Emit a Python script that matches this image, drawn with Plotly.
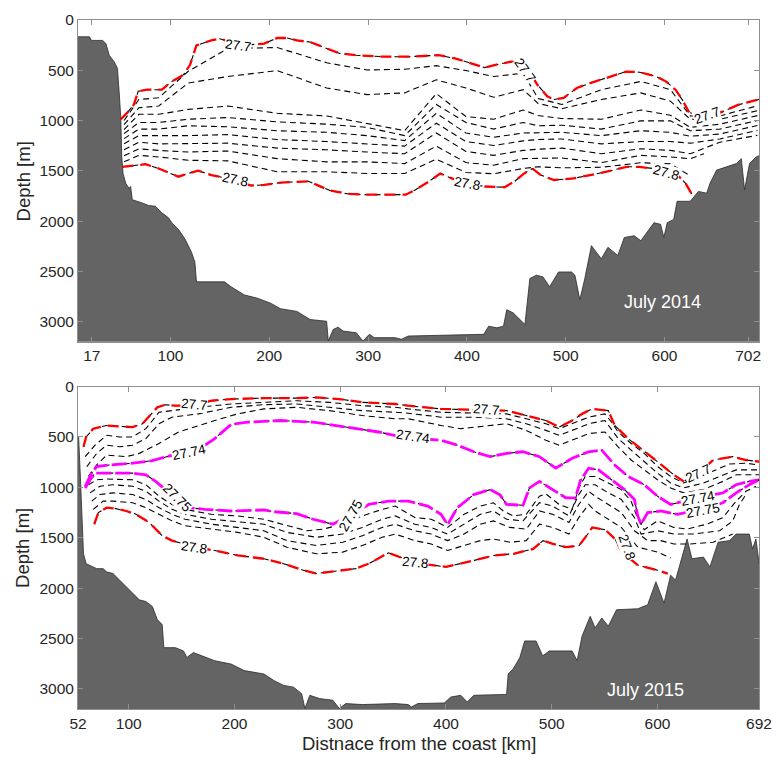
import plotly.graph_objects as go
from plotly.subplots import make_subplots

FONT = "Liberation Sans, Arial, Helvetica, sans-serif"
INK = "#262626"
AXIS_GREY = "#8f8f8f"
BATHY_FILL = "#646464"

# ------------------------------------------------------------------
# July 2014 section: distance (km) and depth (m)
# ------------------------------------------------------------------
BATHY14_KM = [0, 18, 20, 31.3, 34.7, 38, 43, 46.3, 48, 49.7, 50.7, 52, 54.7, 58, 59.7, 61.3,
              71.3, 78, 84.7, 91.3, 98, 101.3, 108, 114.7, 121.3, 124.7, 126.3, 154.7, 161.3,
              174.7, 188, 201.3, 211.3, 228, 241.3, 258, 259.7, 264.7, 269.7, 274.7, 288, 294.7,
              301.3, 306.3, 327, 333.7, 340.7, 374, 417, 422, 430.3, 437, 440.3, 447, 453.7,
              458.7, 463.7, 470.3, 477, 483.7, 492.7, 506, 509.3, 514.3, 519.3, 526, 536, 542.7,
              552.7, 559.3, 569.3, 576, 589.3, 596, 599.3, 602.7, 609.3, 612.7, 626, 634.3, 642.7,
              646, 652.7, 662.7, 672.7, 677.7, 681, 686, 692.7, 700]
BATHY14_M = [167, 167, 203, 203, 235, 350, 415, 480, 709, 970, 1362, 1526, 1624, 1673, 1656, 1787,
             1819, 1845, 1852, 1918, 1967, 2016, 2081, 2179, 2310, 2408, 2604, 2604, 2653,
             2734, 2767, 2816, 2871, 2898, 2979, 2996, 3192, 3077, 3055, 3094, 3110, 3192,
             3126, 3159, 3159, 3175, 3143, 3136, 3126, 3045, 3061, 3045, 2881, 2914, 2979,
             3028, 2571, 2538, 2555, 2653, 2506, 2506, 2538, 2783, 2571, 2244, 2375, 2261,
             2342, 2163, 2146, 2195, 2016, 2032, 2163, 2016, 1983, 1803, 1803, 1705, 1722,
             1624, 1493, 1460, 1428, 1379, 1689, 1428, 1362, 1330]

# sigma = 27.70 (upper bound of the layer)
ISO14_2770_KM = [49.7, 56.3, 63, 67.3, 76.3, 91.3, 101.3, 113, 119.7, 126.3, 141.3, 149.7, 161.3,
                 173, 194.7, 208, 218, 228, 241.3, 258, 271.3, 288, 314.7, 341.3, 371.3, 388,
                 404.7, 418, 428, 444.7, 458, 471.3, 481.3, 488, 498, 511.3, 524.7, 541.3, 561.3,
                 574.7, 591.3, 601.3, 611.3, 618, 625, 645, 661, 675, 698]
ISO14_2770_M = [987, 921, 840, 709, 693, 693, 611, 546, 448, 252, 203, 186, 219, 252, 235, 179,
                179, 203, 219, 284, 333, 350, 365, 365, 350, 382, 431, 473, 448, 414, 431, 644,
                758, 791, 774, 676, 627, 578, 513, 519, 561, 610, 696, 794, 921, 970, 901, 842, 784]

# sigma = 27.80 (lower bound of the layer)
ISO14_2780_KM = [51.3, 64.7, 74.7, 88, 108, 118, 128, 141.3, 164.7, 181.3, 194.7, 211.3, 228,
                 239.7, 248, 261.3, 278, 294.7, 338, 348, 361.3, 373, 384.7, 399.7, 418, 438,
                 448, 458, 466.3, 474.7, 488, 508, 524.7, 541.3, 561.3, 574.7, 588, 601.3, 614.7,
                 621.3, 628]
ISO14_2780_M = [1460, 1444, 1434, 1477, 1558, 1526, 1499, 1542, 1591, 1646, 1640, 1617, 1607,
                1604, 1640, 1695, 1727, 1737, 1737, 1688, 1607, 1526, 1575, 1624, 1656, 1663,
                1607, 1526, 1477, 1542, 1591, 1575, 1542, 1509, 1460, 1460, 1477, 1526, 1558,
                1624, 1738]

# intermediate isopycnals 27.71 ... 27.79, sampled at common stations
STN14_KM = [53, 68, 88, 118, 158, 208, 258, 299, 337, 369, 399, 427, 457, 472, 496, 536, 576,
            606, 626, 656, 694]
ISO14_2771_M = [1000, 791, 774, 510, 284, 274, 425, 497, 490, 454, 503, 562, 529, 780, 840, 693,
                611, 693, 954, 954, 853]
ISO14_2772_M = [1040, 872, 856, 627, 562, 503, 676, 742, 725, 595, 676, 768, 693, 830, 882, 791,
                725, 807, 987, 987, 902]
ISO14_2773_M = [1090, 938, 938, 889, 856, 928, 954, 1026, 1100, 732, 960, 987, 895, 950, 980,
                987, 895, 947, 1068, 1036, 951]
ISO14_2774_M = [1130, 1019, 1019, 987, 970, 1013, 1036, 1068, 1150, 840, 1019, 1085, 1019, 1052,
                1046, 1085, 1003, 1003, 1101, 1085, 1000]
ISO14_2775_M = [1180, 1085, 1085, 1052, 1062, 1101, 1117, 1150, 1199, 928, 1124, 1166, 1124,
                1124, 1117, 1150, 1101, 1117, 1156, 1134, 1049]
ISO14_2776_M = [1230, 1150, 1150, 1150, 1140, 1189, 1209, 1232, 1254, 1026, 1209, 1248, 1202,
                1189, 1183, 1232, 1209, 1209, 1225, 1183, 1098]
ISO14_2777_M = [1290, 1215, 1232, 1232, 1225, 1274, 1291, 1313, 1330, 1124, 1307, 1346, 1297,
                1285, 1274, 1330, 1281, 1297, 1330, 1215, 1147]
ISO14_2778_KM = [53, 68, 88, 118, 158, 208, 258, 299, 337, 369, 399, 427, 457, 472, 496, 536,
                 576, 606, 626, 640]
ISO14_2778_M = [1350, 1281, 1297, 1313, 1303, 1379, 1411, 1411, 1428, 1254, 1418, 1444, 1379,
                1375, 1372, 1418, 1346, 1362, 1380, 1330]
ISO14_2779_KM = [53, 68, 88, 118, 158, 208, 258, 299, 337, 369, 399, 427, 457, 472, 496, 536,
                 576, 606, 626]
ISO14_2779_M = [1410, 1346, 1362, 1395, 1401, 1509, 1509, 1526, 1526, 1385, 1516, 1529, 1477,
                1460, 1470, 1465, 1420, 1430, 1550]

# ------------------------------------------------------------------
# July 2015 section
# ------------------------------------------------------------------
BATHY15_KM = [50, 52.6, 54.1, 55.7, 57.2, 59.7, 63.4, 69.7, 75.8, 79, 85.1, 91.4, 97.6, 103.7,
              110, 116.2, 122.3, 127, 131.6, 133.2, 144.1, 151.8, 154.9, 161.1, 168.9, 181.3,
              196.8, 209.2, 227.8, 237.2, 246.5, 255.8, 263.5, 266.6, 271.2, 280.5, 293, 299.1,
              305.3, 320.9, 352, 364.2, 367.4, 373.5, 398.4, 404.6, 413.9, 420.1, 426.3, 457.3,
              458.8, 463.5, 469.8, 474.4, 485.2, 491.4, 497.7, 519.3, 524, 528.7, 536.4, 541,
              547.3, 553.5, 561.3, 581.4, 590.7, 598.5, 606.2, 612.4, 617.1, 621.7, 628, 632.6,
              643.4, 649.6, 657.3, 668.2, 674.4, 686.8, 689.9, 693.1, 696.1, 700]
BATHY15_M = [480, 500, 859, 1349, 1660, 1758, 1774, 1807, 1807, 1839, 1856, 1921, 1986, 2052,
             2117, 2133, 2182, 2313, 2362, 2591, 2591, 2624, 2689, 2640, 2672, 2721, 2754, 2819,
             2852, 2917, 2966, 2983, 3048, 3195, 3064, 3097, 3113, 3195, 3146, 3156, 3146, 3156,
             3179, 3146, 3140, 3081, 3064, 3130, 3064, 3055, 2852, 2803, 2689, 2525, 2525, 2672,
             2624, 2624, 2721, 2476, 2280, 2395, 2297, 2378, 2215, 2205, 2166, 1937, 2150, 1872,
             1921, 1741, 1513, 1709, 1692, 1790, 1545, 1529, 1464, 1464, 1611, 1513, 1758, 1758]

ISO15_2770_KM = [57.2, 59.7, 66.5, 79, 91.4, 103.7, 113, 120.9, 127, 134.8, 144.1, 159.6, 178.2,
                 196.8, 227.8, 258.8, 277.4, 299.1, 320.9, 352, 364.2, 395.3, 438.7, 457.3,
                 475.9, 494.5, 507, 519.4, 528.7, 538, 553.5, 559.6, 572.1, 584.5, 600, 615.4,
                 624.8, 638.7, 652.7, 671.2, 683.7, 696.1]
ISO15_2770_M = [598, 500, 418, 386, 396, 402, 369, 271, 206, 180, 190, 190, 141, 124, 115, 115,
                108, 124, 157, 173, 190, 222, 239, 239, 288, 337, 402, 337, 271, 222, 239, 386,
                516, 614, 745, 876, 941, 859, 729, 696, 729, 745]

ISO15_2771_KM = [58.8, 68.1, 79, 91.4, 103.7, 116.2, 128.6, 140.9, 153.4, 165.8, 196.8, 227.8,
                 258.8, 289.8, 320.9, 352, 364.2, 395.3, 426.3, 457.3, 475.9, 494.5, 507, 519.3,
                 534.9, 550.3, 556.5, 562.8, 575.1, 587.5, 600, 612.4, 624.8, 637.2, 655.8,
                 668.2, 683.7, 696.1]
ISO15_2771_M = [696, 582, 484, 500, 500, 418, 255, 239, 222, 206, 173, 157, 141, 157, 190, 206,
                222, 255, 265, 271, 320, 369, 418, 369, 304, 271, 353, 451, 565, 663, 794, 892,
                957, 908, 827, 768, 761, 778]

ISO15_2772_KM = [60.4, 69.7, 79, 91.4, 103.7, 116.2, 128.6, 140.9, 165.8, 196.8, 227.8, 258.8,
                 289.8, 320.9, 352, 364.2, 395.3, 426.3, 457.3, 475.9, 494.5, 507, 519.3, 534.9,
                 550.3, 562.8, 575.1, 587.5, 600, 612.4, 624.8, 643.4, 661.9, 674.4, 696.1]
ISO15_2772_M = [794, 663, 582, 598, 582, 516, 369, 304, 271, 206, 180, 173, 206, 239, 255, 265,
                304, 304, 320, 369, 435, 484, 435, 369, 337, 516, 631, 745, 859, 957, 1006, 957,
                876, 827, 827]

ISO15_2773_KM = [61.9, 69.7, 79, 97.6, 110, 128.6, 147.2, 165.8, 181.3, 203, 227.8, 258.8,
                 289.8, 320.9, 352, 364.2, 395.3, 414, 426.3, 457.3, 475.9, 494.5, 507, 519.3,
                 534.9, 550.3, 562.8, 575.1, 587.5, 600, 612.4, 624.8, 643.4, 661.9, 674.4, 696.1]
ISO15_2773_M = [892, 778, 680, 696, 663, 565, 451, 386, 337, 271, 222, 206, 239, 288, 320, 320,
                386, 418, 402, 369, 435, 533, 582, 533, 467, 451, 598, 729, 827, 925, 1006, 1055,
                1023, 941, 876, 876]

ISO15_2774_KM = [58.8, 65, 69.7, 82.1, 103.7, 122.3, 153.4, 172, 181.3, 196.8, 212.3, 243.3,
                 274.4, 305.3, 336.3, 358, 395.3, 410.8, 426.3, 441.8, 457.3, 472.8, 488.4,
                 503.8, 519.3, 534.9, 547.3, 559.6, 572.1, 587.5, 600, 612.4, 638.7, 661.9,
                 674.4, 686.8, 696.1]
ISO15_2774_M = [990, 859, 794, 778, 761, 735, 647, 582, 516, 376, 353, 337, 353, 402, 451, 500,
                533, 582, 647, 696, 663, 647, 696, 810, 712, 647, 631, 778, 892, 974, 1088,
                1170, 1104, 1055, 974, 941, 925]

ISO15_2775_KM = [58.8, 63.4, 68.1, 79, 91.4, 103.7, 116.2, 125.5, 134.8, 147.2, 156.5, 172,
                 196.8, 227.8, 237.2, 258.8, 274.4, 293, 310, 327, 345.6, 364.2, 382.8, 395.3,
                 401.5, 410.8, 426.3, 441.8, 451.1, 457.3, 472.8, 479, 488.4, 500.8, 513.3,
                 522.4, 527.1, 534.9, 544.2, 556.5, 568.9, 578.2, 581.4, 584.5, 590.7, 603,
                 618.6, 643.4, 661.9, 674.4, 686.8, 696.1]
ISO15_2775_M = [1006, 925, 859, 859, 859, 859, 876, 941, 1023, 1153, 1202, 1219, 1235, 1225,
                1242, 1261, 1317, 1366, 1275, 1170, 1137, 1137, 1186, 1268, 1370, 1202, 1072,
                1023, 1075, 1170, 1178, 1006, 941, 1023, 1104, 1104, 933, 810, 827, 925, 1023,
                1121, 1284, 1366, 1251, 1235, 1268, 1219, 1153, 1055, 974, 925]

ISO15_2776_KM = [61.9, 69.7, 79, 91.4, 103.7, 116.2, 128.6, 140.9, 153.4, 178.2, 203, 227.8,
                 249.5, 268.1, 283.7, 302.3, 320.9, 339.5, 352, 370.5, 386, 401.5, 417, 432.5,
                 444.9, 454.2, 463.5, 475.9, 488.4, 494.5, 507, 519.3, 525.6, 531.7, 541, 553.5,
                 565.8, 575.1, 581.4, 587.5, 600, 615.4, 628, 646.5, 661.9, 674.4, 683.7, 693.1]
ISO15_2776_M = [974, 925, 918, 918, 925, 974, 1088, 1170, 1219, 1268, 1284, 1317, 1382, 1431,
                1415, 1366, 1284, 1219, 1186, 1300, 1317, 1398, 1268, 1186, 1153, 1235, 1284,
                1268, 1088, 1065, 1170, 1219, 1006, 892, 892, 957, 1023, 1140, 1310, 1420, 1333,
                1398, 1415, 1366, 1300, 1137, 1039, 990]

ISO15_2777_KM = [63.4, 72.7, 85.1, 103.7, 116.2, 128.6, 140.9, 153.4, 178.2, 203, 227.8, 249.5,
                 277.4, 302.3, 320.9, 339.5, 352, 370.5, 386, 401.5, 417, 432.5, 444.9, 457.3,
                 472.8, 488.4, 500.8, 516.3, 525.6, 531.7, 541, 553.5, 565.8, 578.2, 584.5, 600,
                 615.4, 634.1, 658.8, 671.2, 677.5, 683.7]
ISO15_2777_M = [1055, 990, 974, 990, 1039, 1137, 1219, 1268, 1317, 1343, 1366, 1447, 1496, 1464,
                1398, 1317, 1284, 1366, 1398, 1464, 1366, 1268, 1235, 1317, 1333, 1153, 1186,
                1284, 1072, 974, 974, 1055, 1121, 1300, 1464, 1431, 1464, 1464, 1431, 1333,
                1170, 1072]

ISO15_2778_KM = [65, 72.7, 85.1, 103.7, 116.2, 128.6, 140.9, 153.4, 178.2, 203, 227.8, 249.5,
                 277.4, 302.3, 320.9, 339.5, 352, 370.5, 386, 401.5, 417, 432.5, 444.9, 460.5,
                 475.9, 488.4, 500.8, 516.3, 525.6, 534.9, 541, 553.5, 565.8, 578.2, 590.7, 603,
                 615.4, 631, 652.7, 671.2]
ISO15_2778_M = [1137, 1072, 1055, 1072, 1121, 1202, 1268, 1317, 1366, 1398, 1431, 1529, 1578,
                1545, 1480, 1398, 1366, 1431, 1464, 1529, 1464, 1366, 1333, 1398, 1415, 1235,
                1268, 1349, 1170, 1039, 1088, 1170, 1251, 1431, 1529, 1529, 1562, 1562, 1545,
                1464]

ISO15_2779_KM = [66.5, 75.8, 85.1, 103.7, 116.2, 128.6, 140.9, 153.4, 178.2, 203, 227.8, 249.5,
                 277.4, 302.3, 320.9, 339.5, 352, 370.5, 386, 401.5, 417, 432.5, 444.9, 460.5,
                 475.9, 488.4, 500.8, 516.3, 525.6, 534.9, 541, 553.5, 565.8, 581.4, 600, 612.4]
ISO15_2779_M = [1219, 1137, 1137, 1153, 1202, 1268, 1333, 1382, 1415, 1447, 1496, 1594, 1660,
                1643, 1578, 1496, 1464, 1529, 1562, 1627, 1578, 1529, 1513, 1545, 1529, 1366,
                1398, 1464, 1300, 1170, 1235, 1317, 1398, 1594, 1643, 1702]

ISO15_2780_KM = [67.4, 71.2, 79, 86.7, 97.6, 106.9, 119.3, 131.6, 140.9, 162.7, 181.3, 203,
                 227.8, 246.5, 265.1, 277.4, 289.8, 314.7, 327, 345.6, 370.5, 400, 426.7, 445.3,
                 463.9, 482.5, 491.8, 501.1, 513.5, 525.9, 535.3, 538.3, 550.6, 559.9, 566.2,
                 581.7, 600.3, 609.6]
ISO15_2780_M = [1366, 1251, 1202, 1209, 1235, 1268, 1349, 1480, 1529, 1594, 1627, 1676, 1709,
                1758, 1823, 1856, 1839, 1807, 1758, 1650, 1748, 1790, 1725, 1676, 1660, 1611,
                1529, 1562, 1594, 1578, 1447, 1398, 1421, 1513, 1643, 1774, 1823, 1856]

# Inline contour labels: (text, km, m, rotation)
LABELS14 = [("27.7", 168, 255, 8), ("27.8", 165, 1588, 12), ("27.8", 400, 1627, 10),
            ("27.7", 459, 500, 55), ("27.8", 601, 1519, 15), ("27.7", 643, 951, -20)]
LABELS15 = [("27.7", 162, 183, 5), ("27.7", 437.5, 232, 5), ("27.74", 156.5, 654, -12),
            ("27.74", 368.6, 497, 8), ("27.75", 145.3, 1104, 45), ("27.75", 310, 1281, -60),
            ("27.8", 162, 1594, 8), ("27.8", 370.5, 1751, 5), ("27.7", 638.4, 859, -25),
            ("27.74", 638.4, 1114, -10), ("27.75", 643, 1232, -10), ("27.8", 571.4, 1594, 70)]

DEPTH_TICKS = [0, 500, 1000, 1500, 2000, 2500, 3000]
X14_TICKVALS = [20.4, 100, 200, 300, 400, 500, 600, 684.6]
X14_TICKTEXT = ["17", "100", "200", "300", "400", "500", "600", "702"]
X15_TICKVALS = [52, 100, 200, 300, 400, 500, 600, 696]
X15_TICKTEXT = ["52", "100", "200", "300", "400", "500", "600", "692"]

fig = make_subplots(rows=2, cols=1)


def add_bathy(km, m, row):
    fig.add_trace(go.Scatter(
        x=km + [km[-1], km[0]], y=m + [3400, 3400], mode="lines", fill="toself",
        fillcolor=BATHY_FILL, line=dict(color="#2b2b2b", width=0.8),
        hoverinfo="skip", showlegend=False), row=row, col=1)


def add_iso(km, m, row, accent=None):
    fig.add_trace(go.Scatter(
        x=km, y=m, mode="lines", line=dict(color="black", width=1.1, dash="6px,4px"),
        hoverinfo="skip", showlegend=False), row=row, col=1)
    if accent == "red":
        fig.add_trace(go.Scatter(
            x=km, y=m, mode="lines", line=dict(color="#ff0000", width=2.3, dash="11px,7px"),
            hoverinfo="skip", showlegend=False), row=row, col=1)
    elif accent == "magenta":
        fig.add_trace(go.Scatter(
            x=km, y=m, mode="lines", line=dict(color="#ff00ff", width=2.8, dash="15px,4px"),
            hoverinfo="skip", showlegend=False), row=row, col=1)


# July 2014
add_bathy(BATHY14_KM, BATHY14_M, 1)
for series in [ISO14_2771_M, ISO14_2772_M, ISO14_2773_M, ISO14_2774_M, ISO14_2775_M,
               ISO14_2776_M, ISO14_2777_M]:
    add_iso(STN14_KM, series, 1)
add_iso(ISO14_2778_KM, ISO14_2778_M, 1)
add_iso(ISO14_2779_KM, ISO14_2779_M, 1)
add_iso(ISO14_2770_KM, ISO14_2770_M, 1, "red")
add_iso(ISO14_2780_KM, ISO14_2780_M, 1, "red")

# July 2015
add_bathy(BATHY15_KM, BATHY15_M, 2)
add_iso(ISO15_2771_KM, ISO15_2771_M, 2)
add_iso(ISO15_2772_KM, ISO15_2772_M, 2)
add_iso(ISO15_2773_KM, ISO15_2773_M, 2)
add_iso(ISO15_2776_KM, ISO15_2776_M, 2)
add_iso(ISO15_2777_KM, ISO15_2777_M, 2)
add_iso(ISO15_2778_KM, ISO15_2778_M, 2)
add_iso(ISO15_2779_KM, ISO15_2779_M, 2)
add_iso(ISO15_2774_KM, ISO15_2774_M, 2, "magenta")
add_iso(ISO15_2775_KM, ISO15_2775_M, 2, "magenta")
add_iso(ISO15_2770_KM, ISO15_2770_M, 2, "red")
add_iso(ISO15_2780_KM, ISO15_2780_M, 2, "red")

axis_common = dict(
    showline=True, linecolor=AXIS_GREY, linewidth=1, mirror="ticks",
    ticks="inside", ticklen=5, tickcolor=AXIS_GREY, tickwidth=1,
    showgrid=False, zeroline=False,
    tickfont=dict(family=FONT, size=15.5, color=INK),
)

fig.update_layout(
    width=783, height=761,
    margin=dict(l=78, r=13, t=11, b=52),
    paper_bgcolor="white", plot_bgcolor="white",
    showlegend=False,
    xaxis=dict(domain=[0, 1], range=[6.4, 695.6], tickmode="array",
               tickvals=X14_TICKVALS, ticktext=X14_TICKTEXT, **axis_common),
    yaxis=dict(domain=[0.533, 1], range=[3200, 0], tickmode="array",
               tickvals=DEPTH_TICKS, **axis_common),
    xaxis2=dict(domain=[0, 1], range=[52, 696], tickmode="array",
                tickvals=X15_TICKVALS, ticktext=X15_TICKTEXT, **axis_common),
    yaxis2=dict(domain=[0, 0.468], range=[3200, 0], tickmode="array",
                tickvals=DEPTH_TICKS, **axis_common),
)

annotations = []
for text, km, m, ang in LABELS14:
    annotations.append(dict(x=km, y=m, xref="x", yref="y", text=text, showarrow=False,
                            textangle=ang, bgcolor="white", borderpad=0,
                            font=dict(family=FONT, size=13.5, color="black")))
for text, km, m, ang in LABELS15:
    annotations.append(dict(x=km, y=m, xref="x2", yref="y2", text=text, showarrow=False,
                            textangle=ang, bgcolor="white", borderpad=0,
                            font=dict(family=FONT, size=13.5, color="black")))

annotations += [
    dict(x=598, y=2808, xref="x", yref="y", text="July 2014", showarrow=False,
         font=dict(family=FONT, size=18, color="white")),
    dict(x=589, y=3015, xref="x2", yref="y2", text="July 2015", showarrow=False,
         font=dict(family=FONT, size=18, color="white")),
    dict(x=-0.0805, y=0.766, xref="paper", yref="paper", text="Depth [m]", showarrow=False,
         textangle=-90, xanchor="center", yanchor="middle",
         font=dict(family=FONT, size=18.5, color=INK)),
    dict(x=-0.0805, y=0.234, xref="paper", yref="paper", text="Depth [m]", showarrow=False,
         textangle=-90, xanchor="center", yanchor="middle",
         font=dict(family=FONT, size=18.5, color=INK)),
    dict(x=0.5, y=-0.05, xref="paper", yref="paper", text="Distnace from the coast [km]",
         showarrow=False, xanchor="center", yanchor="middle",
         font=dict(family=FONT, size=18.5, color=INK)),
]
fig.update_layout(annotations=annotations)

fig.write_html("out.html")
